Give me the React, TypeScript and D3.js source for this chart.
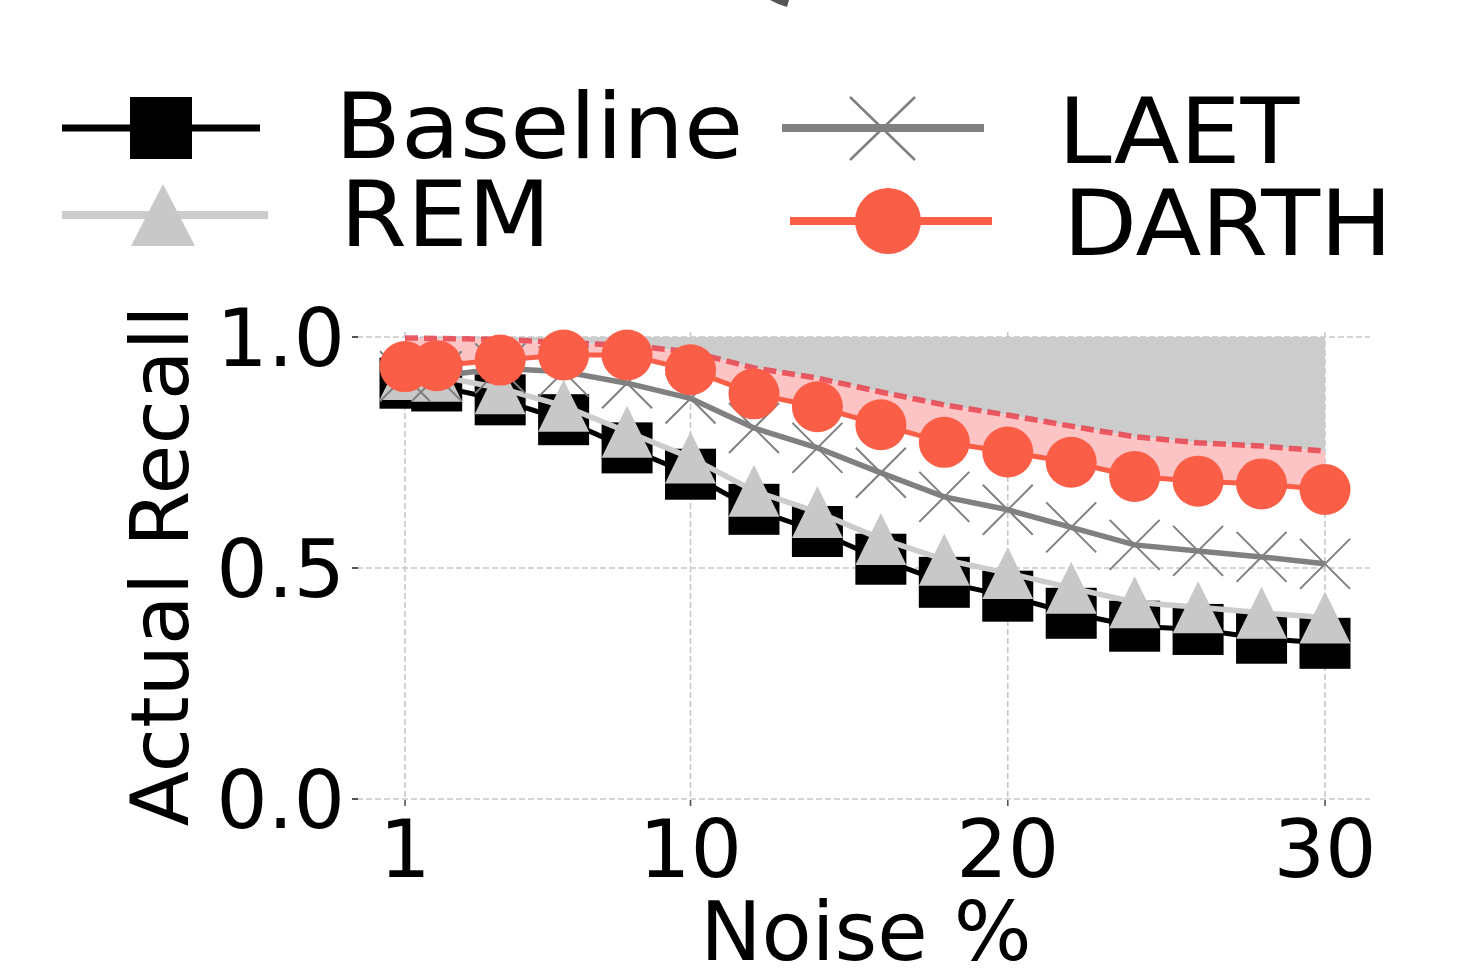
import React, { useRef, useEffect } from 'react';
import * as d3 from 'd3';

const noiseLevels = [1, 2, 4, 6, 8, 10, 12, 14, 16, 18, 20, 22, 24, 26, 28, 30];
const baselineRecall = [0.9, 0.894, 0.864, 0.821, 0.76, 0.703, 0.627, 0.579, 0.519, 0.469, 0.439, 0.402, 0.374, 0.367, 0.348, 0.337];
const remRecall = [0.92, 0.916, 0.889, 0.851, 0.795, 0.739, 0.667, 0.621, 0.563, 0.518, 0.489, 0.457, 0.426, 0.415, 0.403, 0.393];
const laetRecall = [0.915, 0.915, 0.932, 0.925, 0.9, 0.867, 0.803, 0.76, 0.706, 0.654, 0.626, 0.588, 0.55, 0.537, 0.524, 0.509];
const darthRecall = [0.936, 0.938, 0.95, 0.961, 0.961, 0.929, 0.877, 0.849, 0.81, 0.772, 0.751, 0.729, 0.698, 0.688, 0.682, 0.67];
const targetRecall = [0.998, 0.997, 0.995, 0.988, 0.982, 0.968, 0.933, 0.911, 0.881, 0.853, 0.831, 0.807, 0.784, 0.771, 0.764, 0.753];

const xTicks = [1, 10, 20, 30];
const yTicks = [0, 0.5, 1.0];

const FONT = '"DejaVu Sans", sans-serif';
const RED = '#fb5e47';

const App = () => {
  const svgRef = useRef<SVGSVGElement>(null);

  useEffect(() => {
    const svg = d3.select(svgRef.current);
    svg.selectAll('*').remove();

    // plot frame (pixels)
    const frame = { left: 357, right: 1370, top: 332, bottom: 806 };

    const x = d3.scaleLinear().domain([1, 30]).range([405, 1325]);
    const y = d3.scaleLinear().domain([0, 1]).range([799, 337]);

    const pts = (vals: number[]) => noiseLevels.map((n, i) => [n, vals[i]] as [number, number]);

    // grid
    const grid = svg.append('g');
    yTicks.forEach(t => {
      grid.append('line')
        .attr('x1', frame.left).attr('x2', frame.right)
        .attr('y1', y(t)).attr('y2', y(t))
        .attr('stroke', '#c8c8c8').attr('stroke-width', 1.6)
        .attr('stroke-dasharray', '6,3');
      grid.append('line')
        .attr('x1', frame.left - 5).attr('x2', frame.left + 1)
        .attr('y1', y(t)).attr('y2', y(t))
        .attr('stroke', '#555').attr('stroke-width', 2);
    });
    xTicks.forEach(t => {
      grid.append('line')
        .attr('x1', x(t)).attr('x2', x(t))
        .attr('y1', frame.top).attr('y2', frame.bottom)
        .attr('stroke', '#c8c8c8').attr('stroke-width', 1.6)
        .attr('stroke-dasharray', '6,3');
      grid.append('line')
        .attr('x1', x(t)).attr('x2', x(t))
        .attr('y1', frame.bottom - 6).attr('y2', frame.bottom)
        .attr('stroke', '#555').attr('stroke-width', 1.5);
    });

    // shaded gap between target and perfect recall
    const gapArea = d3.area<[number, number]>()
      .x(d => x(d[0]))
      .y0(() => y(1))
      .y1(d => y(d[1]));
    svg.append('path')
      .datum(pts(targetRecall))
      .attr('d', gapArea)
      .attr('fill', '#cccccc');

    // DARTH band up to target
    const band = d3.area<number>()
      .x((_, i) => x(noiseLevels[i]))
      .y0((_, i) => y(darthRecall[i]))
      .y1((_, i) => y(targetRecall[i]));
    svg.append('path')
      .datum(noiseLevels)
      .attr('d', band)
      .attr('fill', '#fcc4c4');

    const line = d3.line<[number, number]>().x(d => x(d[0])).y(d => y(d[1]));

    // Baseline
    svg.append('path').datum(pts(baselineRecall)).attr('d', line)
      .attr('fill', 'none').attr('stroke', '#000').attr('stroke-width', 5);
    svg.selectAll('.sq').data(pts(baselineRecall)).enter().append('rect')
      .attr('x', d => x(d[0]) - 25.5).attr('y', d => y(d[1]) - 25.5)
      .attr('width', 51).attr('height', 51).attr('fill', '#000');

    // REM
    svg.append('path').datum(pts(remRecall)).attr('d', line)
      .attr('fill', 'none').attr('stroke', '#cccccc').attr('stroke-width', 5.5);
    svg.selectAll('.tri').data(pts(remRecall)).enter().append('path')
      .attr('d', 'M0,-26L25.5,26L-25.5,26Z')
      .attr('transform', d => `translate(${x(d[0])},${y(d[1])})`)
      .attr('fill', '#c8c8c8');

    // LAET
    svg.append('path').datum(pts(laetRecall)).attr('d', line)
      .attr('fill', 'none').attr('stroke', '#808080').attr('stroke-width', 5.5);
    svg.selectAll('.cross').data(pts(laetRecall)).enter().append('path')
      .attr('d', 'M-25,-25L25,25M-25,25L25,-25')
      .attr('transform', d => `translate(${x(d[0])},${y(d[1])})`)
      .attr('stroke', '#808080').attr('stroke-width', 2).attr('fill', 'none');

    // target (dashed)
    svg.append('path').datum(pts(targetRecall)).attr('d', line)
      .attr('fill', 'none').attr('stroke', '#e8323c').attr('stroke-opacity', 0.75)
      .attr('stroke-width', 5.5).attr('stroke-dasharray', '13,6');

    // DARTH
    svg.append('path').datum(pts(darthRecall)).attr('d', line)
      .attr('fill', 'none').attr('stroke', RED).attr('stroke-width', 5);
    svg.selectAll('.dot').data(pts(darthRecall)).enter().append('circle')
      .attr('cx', d => x(d[0])).attr('cy', d => y(d[1])).attr('r', 25.5)
      .attr('fill', RED);

    // tick labels
    const labels = svg.append('g').attr('font-family', FONT).attr('fill', '#000');
    yTicks.forEach(t => {
      labels.append('text')
        .attr('x', 345).attr('y', y(t) + 29)
        .attr('text-anchor', 'end').attr('font-size', 81)
        .text(t.toFixed(1));
    });
    xTicks.forEach(t => {
      labels.append('text')
        .attr('x', x(t)).attr('y', 877)
        .attr('text-anchor', 'middle').attr('font-size', 81)
        .text(String(t));
    });

    // axis titles
    labels.append('text')
      .attr('transform', 'translate(188,566) rotate(-90)')
      .attr('text-anchor', 'middle').attr('font-size', 81)
      .text('Actual Recall');
    labels.append('text')
      .attr('x', 866).attr('y', 960)
      .attr('text-anchor', 'middle').attr('font-size', 82)
      .text('Noise %');

    // legend
    const lg = svg.append('g');
    // Baseline
    lg.append('line').attr('x1', 62).attr('x2', 260).attr('y1', 128).attr('y2', 128)
      .attr('stroke', '#000').attr('stroke-width', 7);
    lg.append('rect').attr('x', 130).attr('y', 97).attr('width', 62).attr('height', 62).attr('fill', '#000');
    // REM
    lg.append('line').attr('x1', 62).attr('x2', 268).attr('y1', 215).attr('y2', 215)
      .attr('stroke', '#cccccc').attr('stroke-width', 8);
    lg.append('path').attr('d', 'M163,184L195,246L131,246Z').attr('fill', '#c8c8c8');
    // LAET
    lg.append('line').attr('x1', 782).attr('x2', 984).attr('y1', 128).attr('y2', 128)
      .attr('stroke', '#808080').attr('stroke-width', 8);
    lg.append('path').attr('d', 'M850,97L915,160M850,160L915,97')
      .attr('stroke', '#808080').attr('stroke-width', 2.5);
    // DARTH
    lg.append('line').attr('x1', 790).attr('x2', 992).attr('y1', 221).attr('y2', 221)
      .attr('stroke', RED).attr('stroke-width', 8);
    lg.append('circle').attr('cx', 888).attr('cy', 221).attr('r', 33).attr('fill', RED);

    const lt = lg.append('g').attr('font-family', FONT).attr('font-size', 90).attr('fill', '#000');
    const legendText = (label: string, tx: number, ty: number) =>
      lt.append('text')
        .attr('transform', `translate(${tx},${ty}) scale(1.07,1)`)
        .text(label);
    legendText('Baseline', 335, 158);
    legendText('REM', 340, 246);
    legendText('LAET', 1058, 163);
    legendText('DARTH', 1063, 255);

    // fragment at the top edge
    svg.append('path').attr('d', 'M770,0Q779,5 787,7L789,0Z').attr('fill', '#555');
  }, []);

  return (
    <svg
      ref={svgRef}
      width={1463}
      height={970}
      style={{ position: 'absolute', left: 0, top: 0, background: '#fff' }}
    />
  );
};

export default App;
